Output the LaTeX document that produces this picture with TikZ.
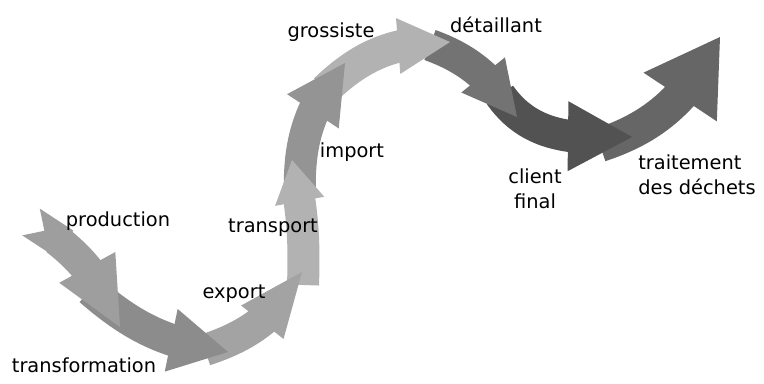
\documentclass[tikz,border=0pt]{standalone}
\usepackage{fontspec}
\setmainfont{DejaVu Sans}
\usetikzlibrary{arrows.meta,bending}

\begin{document}
\begin{tikzpicture}[
	flow/.style={line width=0.8cm},
	lbl/.style={inner sep=0pt, font=\fontsize{13.8}{17.8}\selectfont}]
	\useasboundingbox (0,0) rectangle (19.1,9.575);
	
	\coordinate (a0) at (0.775,4.025);
	\coordinate (a1) at (3,1.4);
	\coordinate (b0) at (2.25,2.325);
	\coordinate (b1) at (5.7,0.775);
	\coordinate (c0) at (5.125,0.825);
	\coordinate (c1) at (7.55,2.775);
	\coordinate (d0) at (7.575,2.45);
	\coordinate (d1) at (7.3,5.575);
	\coordinate (e0) at (7.5,4.7);
	\coordinate (e1) at (8.625,8);
	\coordinate (f0) at (8.125,7.325);
	\coordinate (f1) at (11.25,8.525);
	\coordinate (g0) at (10.75,8.45);
	\coordinate (g1) at (12.925,6.65);
	\coordinate (h0) at (12.5,7.2);
	\coordinate (h1) at (15.8,6.15);
	\coordinate (i0) at (15,5.95);
	\coordinate (i1) at (18,8.65);
	
	% last arrow first, so that each head lies on the next tail
	\draw[flow, line width=0.85cm, black!60, -{Triangle[length=1.8cm, width=2.2cm, line width=0pt]}](i0) to[out=18, in=242] (i1);
	\draw[flow, black!68, -{Triangle[length=1.6cm, width=1.75cm, line width=0pt]}](h0) to[out=-55, in=183] (h1);
	\draw[flow, black!55, -{Triangle[length=1.35cm, width=1.4cm, line width=0pt]}](g0) to[out=-20, in=124] (g1);
	\draw[flow, black!30, -{Triangle[length=1.3cm, width=1.4cm, line width=0pt]}](f0) to[out=44, in=178] (f1);
	\draw[flow, black!42, -{Triangle[length=1.45cm, width=1.55cm, line width=0pt]}](e0) to[out=92, in=230] (e1);
	\draw[flow, black!30, -{Triangle[length=1.05cm, width=1.25cm, line width=0pt]}](d0) to[out=88, in=282] (d1);
	\draw[flow, black!36, -{Triangle[length=1.6cm, width=1.35cm, line width=0pt]}](c0) to[out=18, in=240] (c1);
	\draw[flow, black!45, -{Triangle[length=1.45cm, width=1.6cm, line width=0pt]}](b0) to[out=-41, in=173] (b1);
	\draw[flow, black!38, {Triangle Cap[reversed, length=0.4cm]}-{Triangle[length=1.7cm, width=1.6cm, line width=0pt]}](a0) to[out=-32, in=112] (a1);
	
	\node[lbl, anchor=base] (production) at (2.95,3.925){production};
	\node[lbl, anchor=base] (transformation) at (2.1,0.275){transformation};
	\node[lbl, anchor=base] (export) at (5.85,2.125){export};
	\node[lbl, anchor=base] (transport) at (6.825,3.775){transport};
	\node[lbl, anchor=base] (import) at (8.8,5.65){import};
	\node[lbl, anchor=base] (grossiste) at (8.275,8.625){grossiste};
	\node[lbl, anchor=base] (detaillant) at (12.4,8.75){détaillant};
	\node[lbl, align=center] (client) at (13.375,4.85){client\\final};
	\node[lbl, align=left, anchor=west] (dechets) at (15.95,5.2){traitement\\des déchets};
\end{tikzpicture}
\end{document}
